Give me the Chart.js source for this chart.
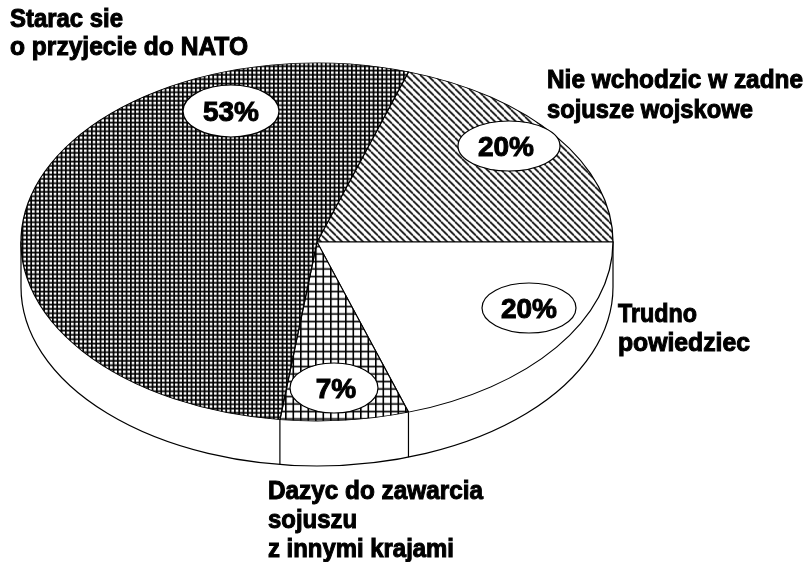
<!DOCTYPE html>
<html><head><meta charset="utf-8">
<style>html,body{margin:0;padding:0;background:#fff}canvas{display:block}</style>
<script src="https://cdn.jsdelivr.net/npm/chart.js@4"></script>
</head><body><canvas id="c" width="805" height="562"></canvas>
<script>
const categories = ["Nie wchodzic w zadne sojusze wojskowe","Trudno powiedziec","Dazyc do zawarcia sojuszu z innymi krajami","Starac sie o przyjecie do NATO"];
const values = [20,20,7,53];
const percentLabels = ["20%","20%","7%","53%"];
const categoryLines = [["Nie wchodzic w zadne","sojusze wojskowe"],["Trudno","powiedziec"],["Dazyc do zawarcia","sojuszu","z innymi krajami"],["Starac sie","o przyjecie do NATO"]];

const SQUASH = 179/296, DEPTH = 45, FONT = 'bold 25px "Liberation Sans"';
const labelAnchors = [[547,88],[618,322],[268,499],[10,27]];
const labelLineGap = [30,29,29,28];
const lineWidths = [[256,206],[79,132],[215,89,186],[113,238]];
const bubbles = [[509,146,51,25],[529,308,47,25],[334,388,44,25],[231,111,48,26]];
const percentX = [506,529,336,231];

function tile(size, draw){
  const t=document.createElement('canvas');t.width=t.height=size;
  const g=t.getContext('2d');g.fillStyle='#fff';g.fillRect(0,0,size,size);g.fillStyle='#000';g.strokeStyle='#000';draw(g,size);
  const p=document.createElement('canvas').getContext('2d').createPattern(t,'repeat');
  p.setTransform(new DOMMatrix().scale(1,1/SQUASH));
  return p;
}
const diag = tile(7,(g,s)=>{g.lineWidth=1.6;for(let o=-s;o<=s;o+=s){g.beginPath();g.moveTo(o,0);g.lineTo(o+s,s);g.stroke();}});
const dense = tile(13,(g,s)=>{[0,4.33,8.67].forEach(o=>{g.fillRect(o,0,1.7,s);g.fillRect(0,o,s,1.7);});});
const light = tile(15,(g,s)=>{[0,7.5].forEach(o=>{g.fillRect(o,0,1.6,s);g.fillRect(0,o,s,1.6);});});
const fills = [diag,'#ffffff',light,dense];

const pie3d = {
  id:'pie3d',
  beforeDatasetsDraw(chart){
    const ctx=chart.ctx, arcs=chart.getDatasetMeta(0).data, a0=arcs[0];
    const cx=a0.x, cy=a0.y, R=a0.outerRadius, Ry=R*SQUASH;
    ctx.save();
    ctx.lineWidth=1.2;ctx.strokeStyle='#000';ctx.fillStyle='#fff';
    ctx.beginPath();
    ctx.moveTo(cx-R,cy);ctx.lineTo(cx-R,cy+DEPTH);
    ctx.ellipse(cx,cy+DEPTH,R,Ry,0,Math.PI,0,true);
    ctx.lineTo(cx+R,cy);ctx.closePath();
    ctx.fill();ctx.stroke();
    arcs.forEach(a=>{
      const s=Math.sin(a.endAngle),c=Math.cos(a.endAngle);
      if(s>0){const x=cx+R*c,y=cy+Ry*s;ctx.beginPath();ctx.moveTo(x,y);ctx.lineTo(x,y+DEPTH);ctx.stroke();}
    });
    ctx.restore();
    ctx.save();
    ctx.translate(0,cy);ctx.scale(1,SQUASH);ctx.translate(0,-cy);
  },
  afterDatasetsDraw(chart){
    const ctx=chart.ctx;
    ctx.restore();
    ctx.save();
    ctx.fillStyle='#000';ctx.strokeStyle='#000';ctx.textBaseline='alphabetic';ctx.textAlign='left';
    const fat=(t,x,y,w)=>{
      ctx.save();ctx.translate(x,y);
      if(w) ctx.scale(w/ctx.measureText(t).width,1);
      ctx.lineWidth=1;ctx.strokeText(t,0,0);ctx.fillText(t,0,0);ctx.restore();
    };
    ctx.font=FONT;
    categoryLines.forEach((lines,i)=>lines.forEach((t,j)=>fat(t,labelAnchors[i][0],labelAnchors[i][1]+j*labelLineGap[i],lineWidths[i][j])));
    percentLabels.forEach((t,i)=>{
      const b=bubbles[i];
      ctx.fillStyle='#fff';ctx.lineWidth=1.2;
      ctx.beginPath();ctx.ellipse(b[0],b[1],b[2],b[3],0,0,Math.PI*2);ctx.fill();ctx.stroke();
      ctx.fillStyle='#000';ctx.font='bold 28px "Liberation Sans"';ctx.textAlign='center';
      fat(t,percentX[i],b[1]+10);
      ctx.textAlign='left';ctx.font=FONT;
    });
    ctx.restore();
  }
};

new Chart(document.getElementById('c'),{
  type:'pie',
  data:{labels:categories,datasets:[{data:values,backgroundColor:fills,borderColor:'#000',borderWidth:1.3,clip:false}]},
  options:{
    responsive:false,animation:false,rotation:18,radius:296,
    layout:{padding:{left:0,right:171,top:0,bottom:78}},
    plugins:{legend:{display:false},tooltip:{enabled:false},title:{display:false}}
  },
  plugins:[pie3d]
});
</script></body></html>
